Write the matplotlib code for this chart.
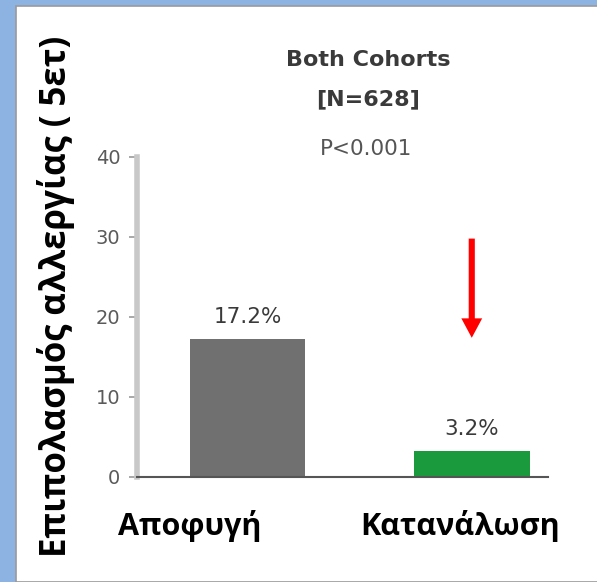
import matplotlib.pyplot as plt
from matplotlib.patches import Rectangle

# data
categories = ["Αποφυγή", "Κατανάλωση"]
values = [17.2, 3.2]
value_labels = ["17.2%", "3.2%"]
bar_colors = ["#707070", "#1a9a3c"]
y_ticks = [0, 10, 20, 30, 40]
title_lines = ["Both Cohorts", "[N=628]"]
p_text = "P<0.001"
y_label = "Επιπολασμός αλλεργίας ( 5ετ)"

W, H = 597, 582
fig = plt.figure(figsize=(W / 100, H / 100), dpi=100)
fig.patch.set_facecolor("#8db3e2")

# white slide area with thin grey edge
fig.add_artist(Rectangle((16 / W, 0), 1, 1 - 6 / H, transform=fig.transFigure,
                         facecolor="white", edgecolor="#9a9a9a", linewidth=1.2,
                         zorder=-5))

ax = fig.add_axes([137 / W, 1 - 477 / H, (548 - 137) / W, (477 - 157) / H])
ax.set_facecolor("none")

x = list(range(len(categories)))
ax.bar(x, values, width=0.515, color=bar_colors, zorder=2)

for xi, v, lab in zip(x, values, value_labels):
    ax.text(xi, v + 1.5, lab, ha="center", va="bottom", fontsize=15.5,
            color="#3a3a3a", family="DejaVu Sans")

ax.set_xlim(-0.493, 1.34)
ax.set_ylim(0, 40)
ax.set_yticks(y_ticks)
ax.set_xticks([])
ax.tick_params(axis="y", length=6, width=1.2, color="#9a9a9a",
               labelsize=14, labelcolor="#5a5a5a", pad=6)

for s in ["top", "right"]:
    ax.spines[s].set_visible(False)
ax.spines["left"].set_color("#c8c8c8")
ax.spines["left"].set_linewidth(4)
ax.spines["bottom"].set_color("#555555")
ax.spines["bottom"].set_linewidth(1.5)

# red arrow
ax.annotate("", xy=(1, 17.4), xytext=(1, 29.8),
            arrowprops=dict(arrowstyle="simple,head_width=0.75,head_length=0.7,tail_width=0.22",
                            mutation_scale=20, facecolor="#ff0000", edgecolor="none",
                            lw=0, shrinkA=0, shrinkB=0))

# titles
fig.text(368 / W, 1 - 60 / H, title_lines[0], ha="center", va="center",
         fontsize=16, fontweight="bold", color="#3a3a3a")
fig.text(368 / W, 1 - 99 / H, title_lines[1], ha="center", va="center",
         fontsize=16, fontweight="bold", color="#3a3a3a")
fig.text(366 / W, 1 - 149 / H, p_text, ha="center", va="center",
         fontsize=15.5, color="#555555")

# category labels
cat_x = [190, 460]
for cx, c in zip(cat_x, categories):
    fig.text(cx / W, 1 - 526 / H, c, ha="center", va="center",
             fontsize=22, fontweight="bold", color="black", family="Open Sans")

fig.text(56 / W, 1 - 296 / H, y_label, ha="center", va="center", rotation=90,
         fontsize=25, fontweight="bold", color="black", family="Open Sans")

fig.savefig("out.png", dpi=100)
